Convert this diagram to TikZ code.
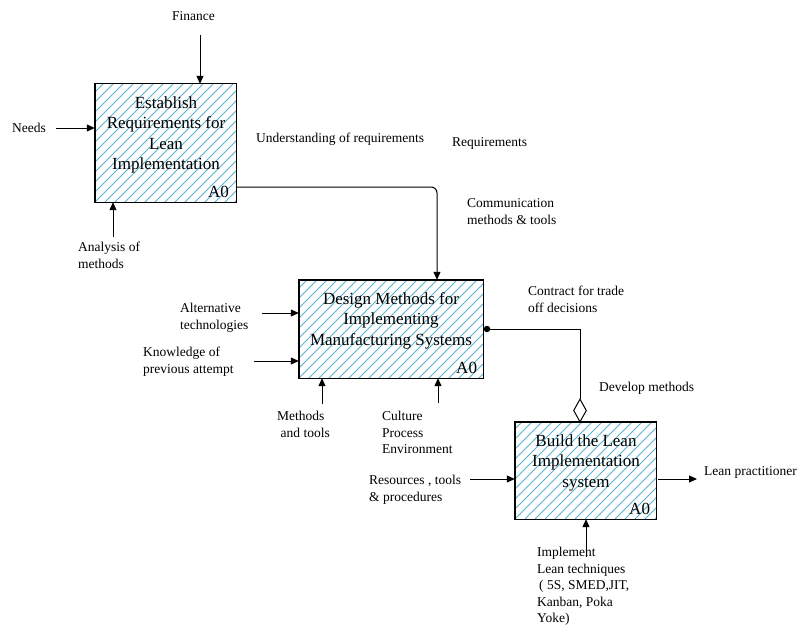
\documentclass[tikz,border=0pt]{standalone}
\usepackage{fontspec}
\setmainfont{Liberation Serif}
\usetikzlibrary{arrows.meta,shapes.geometric,calc}
\definecolor{hatchc}{RGB}{88,180,206}
\newcommand{\lbl}[1]{\fontsize{13.5}{16.6}\selectfont\begin{tabular}[t]{@{}l@{}}#1\end{tabular}}
\newcommand{\btxt}[1]{\fontsize{17}{20.5}\selectfont\begin{tabular}[t]{@{}c@{}}#1\end{tabular}}
\newcommand{\hatchit}[1]{%
  \begin{scope}
    \clip (#1.south west) rectangle (#1.north east);
    \foreach \k in {0,...,34}
      \draw[hatchline] ($(#1.south west)+(\k*10-130,0)$) -- ++(135,-135);
  \end{scope}
  \draw[boxline] (#1.south west) rectangle (#1.north east);}
\tikzset{
  x=1pt, y=-1pt,
  pbox/.style={rectangle, fill=white, inner sep=0pt},
  boxline/.style={draw=black, line width=1.4pt},
  hatchline/.style={draw=hatchc, line width=1pt},
  arr/.style={-{Triangle[length=8pt,width=7pt]}, line width=1pt},
  conn/.style={line width=1pt},
  lab/.style={anchor=base west, inner sep=0pt},
  ttl/.style={anchor=base, inner sep=0pt},
  aref/.style={anchor=base east, inner sep=0pt, font=\fontsize{17}{20}\selectfont},
  dot/.style={circle, fill=black, inner sep=0pt, minimum size=6.5pt},
  dia/.style={diamond, draw=black, line width=1pt, fill=white, inner sep=0pt, minimum width=13pt, minimum height=23pt}
}
\begin{document}
\begin{tikzpicture}
\useasboundingbox (0,0) rectangle (798,626);
\fill[white] (0,0) rectangle (798,626);

% boxes
\node[pbox, minimum width=141pt, minimum height=118pt] (b1) at (165.5,143) {};
\node[pbox, minimum width=184pt, minimum height=98pt] (b2) at (391,329) {};
\node[pbox, minimum width=141pt, minimum height=97pt] (b3) at (585.5,470.5) {};
\hatchit{b1}
\hatchit{b2}
\hatchit{b3}

% box titles
\node[ttl] (t1) at (166,108) {\btxt{Establish\\Requirements for\\Lean\\Implementation}};
\node[ttl] (t2) at (391,304) {\btxt{Design Methods for\\Implementing\\Manufacturing Systems}};
\node[ttl] (t3) at (586,446) {\btxt{Build the Lean\\Implementation\\system}};
\node[aref] (a1) at ($(b1.south east)+(-7,-5)$) {A0};
\node[aref] (a2) at ($(b2.south east)+(-6,-5)$) {A0};
\node[aref] (a3) at ($(b3.south east)+(-6,-5)$) {A0};

% labels
\node[lab] (lfin) at (172,20.5) {\lbl{Finance}};
\node[lab] (lneed) at (12,132.5) {\lbl{Needs}};
\node[lab] (lund) at (256,142.5) {\lbl{Understanding of requirements}};
\node[lab] (lreq) at (452,146.5) {\lbl{Requirements}};
\node[lab] (lcom) at (467,207.5) {\lbl{Communication\\methods \& tools}};
\node[lab] (lana) at (78,251.5) {\lbl{Analysis of\\methods}};
\node[lab] (lalt) at (180,312.5) {\lbl{Alternative\\technologies}};
\node[lab] (lkno) at (143,356.5) {\lbl{Knowledge of\\previous attempt}};
\node[lab] (lcon) at (528,295.5) {\lbl{Contract for trade\\off decisions}};
\node[lab] (lmet) at (277,420.5) {\lbl{Methods\\\hspace*{3.5pt}and tools}};
\node[lab] (lcul) at (382,420.5) {\lbl{Culture\\Process\\Environment}};
\node[lab] (ldev) at (599,391.5) {\lbl{Develop methods}};
\node[lab] (lres) at (369,484.5) {\lbl{Resources , tools\\\& procedures}};
\node[lab] (llp) at (704,475.5) {\lbl{Lean practitioner}};
\node[lab] (limp) at (537,556.5) {\lbl{Implement\\Lean techniques\\\hspace*{2pt}( 5S, SMED,JIT,\\Kanban, Poka\\Yoke)}};

% connectors
\coordinate (cfin) at (200,35);
\draw[arr] (cfin) -- (cfin |- b1.north);
\coordinate (cneed) at (56,128);
\draw[arr] (cneed) -- (cneed -| b1.west);
\coordinate (cana) at (113,237);
\draw[arr] (cana) -- (cana |- b1.south);
\coordinate (c12) at (437,187);
\draw[arr, rounded corners=6pt] (b1.east |- c12) -- (c12) -- (c12 |- b2.north);
\coordinate (calt) at (262,313);
\draw[arr] (calt) -- (calt -| b2.west);
\coordinate (ckno) at (254,361);
\draw[arr] (ckno) -- (ckno -| b2.west);
\coordinate (cmet) at (322,404);
\draw[arr] (cmet) -- (cmet |- b2.south);
\coordinate (ccul) at (438,403);
\draw[arr] (ccul) -- (ccul |- b2.south);
\node[dot] (dt) at (487,329) {};
\node[dia] (dm) at (580,410.5) {};
\coordinate (ctr) at (580,329);
\draw[conn] (dt) -- (ctr) -- (dm.north);
\coordinate (cres) at (470,479);
\draw[arr] (cres) -- (cres -| b3.west);
\coordinate (clp) at (697,479);
\draw[arr] ($(b3.east |- clp)+(2,0)$) -- (clp);
\coordinate (cimp) at (586,557);
\draw[arr] (cimp) -- (cimp |- b3.south);
\end{tikzpicture}
\end{document}
